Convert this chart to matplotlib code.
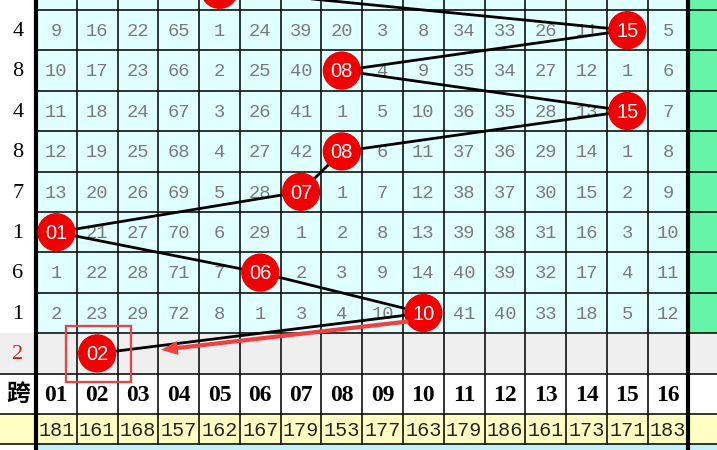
import matplotlib
matplotlib.use("Agg")
import matplotlib.pyplot as plt
from matplotlib.patches import Rectangle

# data
col_labels = ['01', '02', '03', '04', '05', '06', '07', '08',
              '09', '10', '11', '12', '13', '14', '15', '16']
row_labels = ['', '4', '8', '4', '8', '7', '1', '6', '1', '2']
hits = [5, 15, 8, 15, 8, 7, 1, 6, 10, 2]   # ball column per row (row 0 is cut off)
omit1 = [9, 16, 22, 65, 1, 24, 39, 20, 3, 8, 34, 33, 26, 11, 0, 5]
omit2 = [10, 17, 23, 66, 2, 25, 40, 0, 4, 9, 35, 34, 27, 12, 1, 6]
omit3 = [11, 18, 24, 67, 3, 26, 41, 1, 5, 10, 36, 35, 28, 13, 0, 7]
omit4 = [12, 19, 25, 68, 4, 27, 42, 0, 6, 11, 37, 36, 29, 14, 1, 8]
omit5 = [13, 20, 26, 69, 5, 28, 0, 1, 7, 12, 38, 37, 30, 15, 2, 9]
omit6 = [0, 21, 27, 70, 6, 29, 1, 2, 8, 13, 39, 38, 31, 16, 3, 10]
omit7 = [1, 22, 28, 71, 7, 0, 2, 3, 9, 14, 40, 39, 32, 17, 4, 11]
omit8 = [2, 23, 29, 72, 8, 1, 3, 4, 10, 0, 41, 40, 33, 18, 5, 12]
omissions = [omit1, omit2, omit3, omit4, omit5, omit6, omit7, omit8]
totals = [181, 161, 168, 157, 162, 167, 179, 153, 177, 163, 179, 186, 161, 173, 171, 183]

ncol = len(col_labels)
xl, xr = -0.883, ncol + 0.70
ytop, ybot = 0.7525, 11.89
cyan, green, gray, yellow = '#E0FFFF', '#66F5A8', '#EFEFEF', '#FFFFC4'

fig = plt.figure(figsize=(7.17, 4.5), dpi=100)
ax = fig.add_axes([0, 0, 1, 1])
ax.set_xlim(xl, xr)
ax.set_ylim(ybot, ytop)
ax.axis('off')

# backgrounds
ax.add_patch(Rectangle((xl, 0), -xl, 9, fc='white', ec='none', zorder=0))
ax.add_patch(Rectangle((0, 0), ncol, 9, fc=cyan, ec='none', zorder=0))
ax.add_patch(Rectangle((ncol, 0), xr - ncol, 9, fc=green, ec='none', zorder=0))
ax.add_patch(Rectangle((xl, 9), xr - xl, 1, fc=gray, ec='none', zorder=0))
ax.add_patch(Rectangle((xl, 10), xr - xl, 1, fc='white', ec='none', zorder=0))
ax.add_patch(Rectangle((xl, 11), xr - xl, 0.75, fc=yellow, ec='none', zorder=0))
ax.add_patch(Rectangle((0, 11.75), xr, ybot - 11.75, fc='#C4F0FA', ec='none', zorder=0))

# grid
for y in range(1, 10):
    ax.plot([0, xr], [y, y], color='#111111', lw=1.2, zorder=1)
for y in (10, 11, 11.75):
    ax.plot([xl, xr], [y, y], color='#111111', lw=1.2, zorder=1)
for x in range(1, ncol):
    ax.plot([x, x], [0, 11.75], color='#111111', lw=1.2, zorder=1)
for x in (0, ncol):
    ax.plot([x, x], [0, ybot], color='black', lw=3, zorder=1)

# omission numbers
for r, vals in enumerate(omissions, start=1):
    for c, v in enumerate(vals, start=1):
        if v:
            ax.text(c - 0.5, r + 0.53, str(v), ha='center', va='center',
                    fontsize=13.5, color='#7A7A7A', family='Liberation Mono', zorder=2)

# row labels
for r, lab in enumerate(row_labels):
    if lab:
        ax.text(xl / 2, r + 0.53, lab, ha='center', va='center', fontsize=16,
                color='#D02020' if r == 9 else 'black', family='Liberation Serif', zorder=2)

# header and totals
ax.text(xl / 2, 10.5, '跨', ha='center', va='center', fontsize=17, fontweight='bold',
        family='Noto Sans CJK SC', zorder=2)
for c, (lab, t) in enumerate(zip(col_labels, totals), start=1):
    ax.text(c - 0.5, 10.53, lab, ha='center', va='center', fontsize=17, fontweight='bold',
            family='Liberation Serif', zorder=2)
    ax.text(c - 0.5, 11.4, str(t), ha='center', va='center', fontsize=14.5,
            color='#222222', family='Liberation Mono', zorder=2)

# trend line and balls
bx = [c - 0.5 for c in hits]
by = [r + 0.5 for r in range(len(hits))]
ax.plot(bx, by, color='black', lw=2, zorder=3)
ax.scatter(bx, by, s=760, color='#F00000', edgecolors='none', zorder=4)
for x, y, c in list(zip(bx, by, hits))[1:]:
    ax.text(x, y + 0.03, col_labels[c - 1], ha='center', va='center', fontsize=14.5,
            color='white', family='Liberation Sans', zorder=5)

# highlight of latest draw
lx, ly = bx[-1], by[-1]
ax.add_patch(Rectangle((lx - 0.76, ly - 0.68), 1.6, 1.39, fill=False,
                       ec='#E04848', lw=1.7, zorder=6))
ax.annotate('', xy=(lx + 1.5, ly - 0.08), xytext=(bx[-2] - 0.3, by[-2] + 0.2),
            arrowprops=dict(arrowstyle='simple,head_length=1.2,head_width=1.0,tail_width=0.3',
                            color='#F04040', lw=0), zorder=6)

fig.savefig('out.png', dpi=100)
